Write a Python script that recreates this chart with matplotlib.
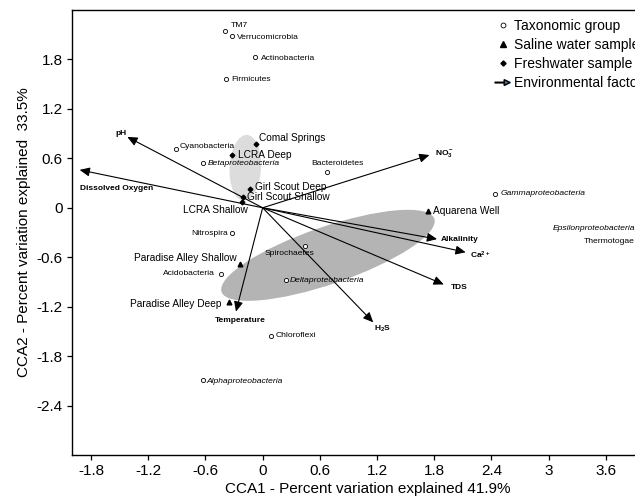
import matplotlib
matplotlib.use('Agg')
import matplotlib.pyplot as plt
from matplotlib.patches import Ellipse, FancyArrow
from matplotlib.lines import Line2D
from matplotlib.legend_handler import HandlerPatch
from matplotlib.transforms import Affine2D

plt.rcParams['font.family'] = ['Liberation Sans', 'DejaVu Sans']
plt.rcParams['axes.unicode_minus'] = False
plt.rcParams['mathtext.fontset'] = 'custom'
plt.rcParams['mathtext.rm'] = 'Liberation Sans:bold'
plt.rcParams['mathtext.bf'] = 'Liberation Sans:bold'
plt.rcParams['mathtext.default'] = 'bf'

# CCA scores - taxonomic groups
taxa = ['TM7', 'Verrucomicrobia', 'Actinobacteria', 'Firmicutes', 'Cyanobacteria',
        'Betaproteobacteria', 'Bacteroidetes', 'Nitrospira', 'Spirochaetes',
        'Acidobacteria', 'Deltaproteobacteria', 'Chloroflexi', 'Alphaproteobacteria',
        'Gammaproteobacteria', 'Epsilonproteobacteria', 'Thermotogae']
taxa_x = [-0.40, -0.32, -0.08, -0.38, -0.91, -0.63, 0.68, -0.32, 0.44,
          -0.44, 0.24, 0.09, -0.63, 2.44, 3.98, 3.98]
taxa_y = [2.14, 2.08, 1.83, 1.56, 0.71, 0.54, 0.44, -0.31, -0.46,
          -0.80, -0.88, -1.55, -2.09, 0.17, -0.25, -0.41]
italic_taxa = ['Betaproteobacteria', 'Deltaproteobacteria', 'Alphaproteobacteria',
               'Gammaproteobacteria', 'Epsilonproteobacteria']

# samples
fresh = ['Comal Springs', 'LCRA Deep', 'Girl Scout Deep', 'Girl Scout Shallow', 'LCRA Shallow']
fresh_x = [-0.07, -0.32, -0.13, -0.21, -0.22]
fresh_y = [0.77, 0.64, 0.23, 0.13, 0.07]

saline = ['Aquarena Well', 'Paradise Alley Shallow', 'Paradise Alley Deep']
saline_x = [1.73, -0.24, -0.35]
saline_y = [-0.04, -0.68, -1.14]

# environmental vectors
env = ['pH', 'Dissolved Oxygen', 'NO$_3^-$', 'Alkalinity', 'Ca$^{2+}$', 'TDS', 'H$_2$S', 'Temperature']
env_x = [-1.42, -1.92, 1.75, 1.83, 2.13, 1.90, 1.16, -0.28]
env_y = [0.86, 0.46, 0.64, -0.38, -0.54, -0.93, -1.39, -1.26]

x_ticks = [-1.8, -1.2, -0.6, 0, 0.6, 1.2, 1.8, 2.4, 3, 3.6]
y_ticks = [1.8, 1.2, 0.6, 0, -0.6, -1.2, -1.8, -2.4]

# label offsets in points: (dx, dy, ha)
taxa_off = {
    'TM7': (4.5, 4, 'left'), 'Verrucomicrobia': (3.5, -1, 'left'),
    'Actinobacteria': (4, -1, 'left'), 'Firmicutes': (3.5, -0.5, 'left'),
    'Cyanobacteria': (2.6, 2, 'left'), 'Betaproteobacteria': (3.6, 0, 'left'),
    'Bacteroidetes': (7, 5.5, 'center'), 'Nitrospira': (-3, 0, 'right'),
    'Spirochaetes': (-10.8, -5.4, 'center'), 'Acidobacteria': (-4.3, 0.5, 'right'),
    'Deltaproteobacteria': (2.9, 0, 'left'), 'Chloroflexi': (3.2, 0, 'left'),
    'Alphaproteobacteria': (3.1, -1, 'left'), 'Gammaproteobacteria': (4, 0, 'left'),
    'Epsilonproteobacteria': (-5, 0, 'right'), 'Thermotogae': (-5, 0, 'right'),
}
fresh_off = {
    'Comal Springs': (2, 4.5, 'left'), 'LCRA Deep': (4.5, 0, 'left'),
    'Girl Scout Deep': (3.4, 1.5, 'left'), 'Girl Scout Shallow': (3, 0, 'left'),
    'LCRA Shallow': (4.5, -5.8, 'right'),
}
saline_off = {
    'Aquarena Well': (3.6, 0, 'left'), 'Paradise Alley Shallow': (-2.4, 4.3, 'right'),
    'Paradise Alley Deep': (-6, -1.4, 'right'),
}
env_off = [(-4.6, 2.7, 'center'), (0, -13.7, 'left'), (4.3, 0, 'left'), (2.4, 0, 'left'),
           (3, -2, 'left'), (4.8, -2.4, 'left'), (0.7, -4.8, 'left'), (2.9, -6.7, 'center')]

fig = plt.figure(figsize=(6.35, 4.99), dpi=100)
ax = fig.add_axes([72 / 635, 44 / 499, 591 / 635, 445 / 499])
ax.set_xlim(-2.0, 4.2)
ax.set_ylim(-3.0, 2.4)

# y/x pixel ratio so the ellipses keep their shape on screen
ratio = (591 / 6.2) / (445 / 5.4)

def group_ellipse(cx, cy, w, h, angle, color):
    e = Ellipse((0, 0), w, h, angle=angle, facecolor=color, edgecolor='none', zorder=1)
    e.set_transform(Affine2D().scale(1, ratio).translate(cx, cy) + ax.transData)
    ax.add_patch(e)

group_ellipse(0.685, -0.577, 2.36, 0.60, 19, '#b4b4b4')
group_ellipse(-0.182, 0.486, 0.69, 0.33, 87, '#dcdcdc')

# environmental arrows
for name, x, y, (dx, dy, ha) in zip(env, env_x, env_y, env_off):
    ax.annotate('', xy=(x, y), xytext=(0, 0),
                arrowprops=dict(arrowstyle='-|>,head_length=0.6,head_width=0.27',
                                mutation_scale=10, lw=0.8, color='black',
                                shrinkA=0, shrinkB=0), zorder=2)
    ax.annotate(name, (x, y), xytext=(dx, dy), textcoords='offset points',
                ha=ha, va='center', fontsize=6, fontweight='bold', zorder=4)

ax.plot(taxa_x, taxa_y, 'o', ls='none', mfc='white', mec='black', ms=3.0, mew=0.6, zorder=3)
ax.plot(fresh_x, fresh_y, 'D', ls='none', color='black', ms=2.4, zorder=3)
ax.plot(saline_x, saline_y, '^', ls='none', color='black', ms=3.4, zorder=3)

for name, x, y in zip(taxa, taxa_x, taxa_y):
    dx, dy, ha = taxa_off[name]
    ax.annotate(name, (x, y), xytext=(dx, dy), textcoords='offset points', ha=ha, va='center',
                fontsize=6.1, style='italic' if name in italic_taxa else 'normal', zorder=4,
                annotation_clip=False)
for names, xs, ys, offs in [(fresh, fresh_x, fresh_y, fresh_off), (saline, saline_x, saline_y, saline_off)]:
    for name, x, y in zip(names, xs, ys):
        dx, dy, ha = offs[name]
        ax.annotate(name, (x, y), xytext=(dx, dy), textcoords='offset points',
                    ha=ha, va='center', fontsize=7.3, zorder=4)

ax.set_xticks(x_ticks)
ax.set_xticklabels(['{:g}'.format(v) for v in x_ticks])
ax.set_yticks(y_ticks)
ax.set_yticklabels(['{:g}'.format(v) for v in y_ticks])
ax.tick_params(direction='out', length=3.6, width=0.9, labelsize=11, pad=3)
for s in ax.spines.values():
    s.set_linewidth(1.0)

ax.set_xlabel('CCA1 - Percent variation explained 41.9%', fontsize=11, labelpad=3)
ax.set_ylabel('CCA2 - Percent variation explained  33.5%', fontsize=11, labelpad=4)

# legend
def arrow_handle(legend, orig_handle, xdescent, ydescent, width, height, fontsize):
    return FancyArrow(-xdescent, height / 2 - ydescent, width, 0, width=0.5,
                      head_width=height * 0.6, head_length=width * 0.4,
                      length_includes_head=True, color='black')

handles = [
    Line2D([], [], marker='o', ls='none', mfc='white', mec='black', ms=3.5, mew=0.6),
    Line2D([], [], marker='^', ls='none', color='black', ms=3.8),
    Line2D([], [], marker='D', ls='none', color='black', ms=2.6),
    FancyArrow(0, 0, 1, 0),
]
labels = ['Taxonomic group', 'Saline water sample', 'Freshwater sample', 'Environmental factor']
ax.legend(handles, labels, handler_map={FancyArrow: HandlerPatch(patch_func=arrow_handle)},
          loc='upper left', bbox_to_anchor=(495 / 635, 1 - 19 / 499),
          bbox_transform=fig.transFigure, frameon=False, fontsize=10,
          handlelength=1.1, handletextpad=0.25, labelspacing=0.37,
          borderpad=0, borderaxespad=0)

fig.savefig('out.png', dpi=100)
